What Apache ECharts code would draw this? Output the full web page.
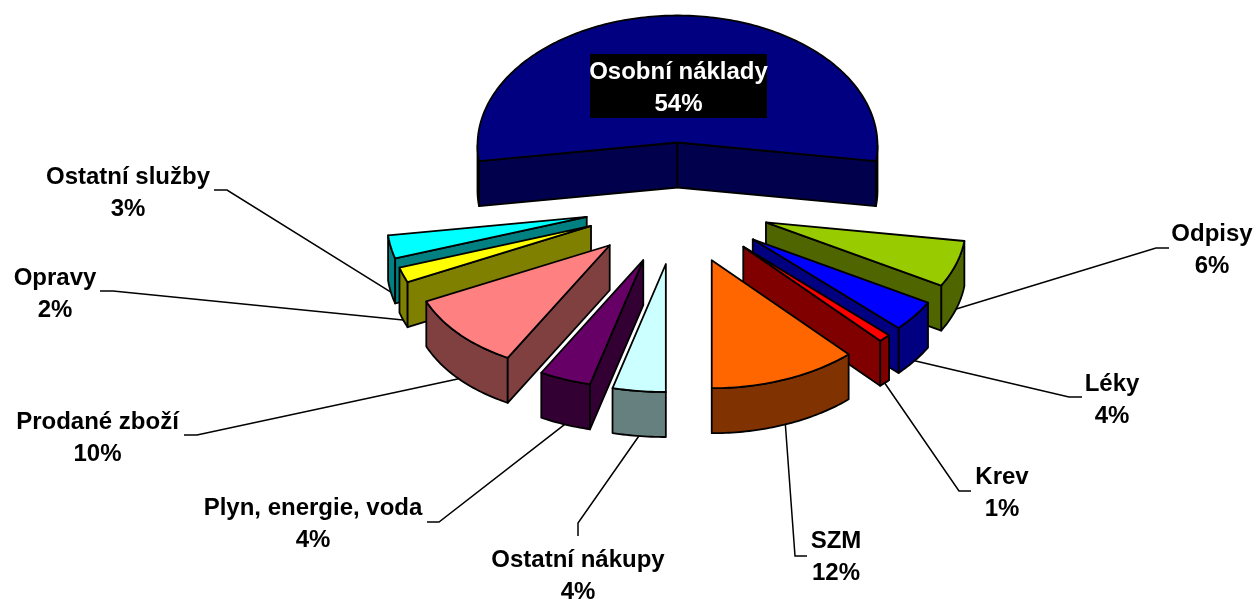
<!DOCTYPE html>
<html>
<head>
<meta charset="utf-8">
<style>
  html, body { margin: 0; padding: 0; background: #fff; }
  #chart { width: 1256px; height: 599px; }
</style>
<script src="https://cdn.jsdelivr.net/npm/echarts@6/dist/echarts.min.js"></script>
</head>
<body>
<div id="chart"></div>
<script>
// slices, clockwise from the big one at the top
const names = ['Osobní náklady', 'Odpisy', 'Léky', 'Krev', 'SZM', 'Ostatní nákupy', 'Plyn, energie, voda', 'Prodané zboží', 'Opravy', 'Ostatní služby'];
const shares = [54, 6, 4, 1, 12, 4, 4, 10, 2, 3];

const topColors = ['#000080', '#99CC00', '#0000FF', '#FF0000', '#FF6600', '#CCFFFF', '#660066', '#FF8080', '#FFFF00', '#00FFFF'];
const sideColors = ['#00004D', '#4F6600', '#000080', '#800000', '#803300', '#668080', '#330033', '#804040', '#808000', '#008080'];

// label centres and the elbow of each leader, in page pixels
const labelX = [678.5, 1212, 1112, 1002, 836, 578, 313, 97.5, 55, 128];
const labelY = [88, 250, 400, 493, 557.5, 576, 524, 438, 294, 193];
const elbows = [null, [[1169, 248], [1156, 248]], [[1082, 397], [1069, 397]], [[971, 491], [959, 491]], [[807, 556], [795, 556]], [[578, 536], [578, 523]], [[427, 522], [439, 522]], [[184, 435], [197, 435]], [[100, 291], [113, 291]], [[214, 190], [227, 190]]];
const blackBox = { x: 590, y: 54, width: 177, height: 64 };

// projection of the tilted pie
const cx = 677.5, cy = 203.5, depth = 45;
const explodeX = 93, explodeY = 61;
const radiusX = 200, radiusBack = 130, radiusFront = 125, rimDrop = 3;
const leftSkew = 2.2; // the front left quarter leans outwards a little

const rad = d => d * Math.PI / 180;
const rimPoint = (o, a) => {
  const c = Math.cos(rad(a));
  const ax = a > 180 && a < 270 ? a + leftSkew * Math.sin(rad(2 * (a - 180))) : a;
  return [o[0] + radiusX * Math.sin(rad(ax)), o[1] - (c > 0 ? radiusBack : radiusFront) * c + rimDrop];
};
const down = p => [p[0], p[1] + depth];

let cum = -shares[0] * 3.6 / 2;
const slices = shares.map(v => {
  const a0 = cum;
  cum += v * 3.6;
  const mid = (a0 + cum) / 2;
  return { a0, a1: cum, mid, apex: [cx + explodeX * Math.sin(rad(mid)), cy - explodeY * Math.cos(rad(mid))] };
});
// back slices are painted first
const paintOrder = slices.map((s, i) => i).sort((p, q) => slices[p].apex[1] - slices[q].apex[1]);

const arc = (s, from, to) => {
  const pts = [];
  const n = Math.max(2, Math.ceil(to - from));
  for (let i = 0; i <= n; i++) pts.push(rimPoint(s.apex, from + (to - from) * i / n));
  return pts;
};

const edge = { stroke: '#000', lineWidth: 1.8, lineJoin: 'round' };

function renderSlice(params, api) {
  const idx = api.value(0);
  const s = slices[idx];
  const z = paintOrder.indexOf(idx) * 10 + 10;
  const kids = [];
  const poly = (points, fill, dz) => kids.push({
    type: 'polygon', z2: z + dz, shape: { points }, style: { fill, ...edge }
  });

  // outer wall, only the part turned to the viewer
  [[90, 270], [-270, -90]].forEach(([lo, hi]) => {
    const from = Math.max(lo, s.a0), to = Math.min(hi, s.a1);
    if (to > from) {
      const top = arc(s, from, to);
      poly(top.concat(top.map(down).reverse()), sideColors[idx], 0);
    }
  });
  // cut faces
  [s.a0, s.a1].forEach((a, k) => {
    const seen = k === 0 ? Math.sin(rad(a)) < -1e-6 : Math.sin(rad(a)) > 1e-6;
    if (seen) {
      const p = rimPoint(s.apex, a);
      poly([s.apex, p, down(p), down(s.apex)], sideColors[idx], 1);
    }
  });
  // top face
  poly([s.apex].concat(arc(s, s.a0, s.a1)), topColors[idx], 2);

  // leader
  if (elbows[idx]) {
    kids.push({
      type: 'polyline', z2: 1,
      shape: { points: elbows[idx].concat([down(rimPoint(s.apex, s.mid))]) },
      style: { fill: null, stroke: '#000', lineWidth: 1.5 }
    });
  }
  // label
  const big = idx === 0;
  if (big) {
    kids.push({ type: 'rect', z2: 499, shape: blackBox, style: { fill: '#000' } });
  }
  kids.push({
    type: 'text', z2: 500, x: labelX[idx], y: labelY[idx],
    style: {
      text: names[idx] + '\n' + shares[idx] + '%',
      font: 'bold 24px "Liberation Sans", Arial, sans-serif',
      lineHeight: 32,
      align: 'center', verticalAlign: 'middle',
      fill: big ? '#fff' : '#000'
    }
  });
  return { type: 'group', children: kids };
}

const chart = echarts.init(document.getElementById('chart'), null, { renderer: 'canvas' });
chart.setOption({
  animation: false,
  backgroundColor: '#fff',
  series: [{
    type: 'custom',
    coordinateSystem: 'none',
    silent: true,
    renderItem: renderSlice,
    data: names.map((n, i) => [i])
  }]
});
</script>
</body>
</html>
